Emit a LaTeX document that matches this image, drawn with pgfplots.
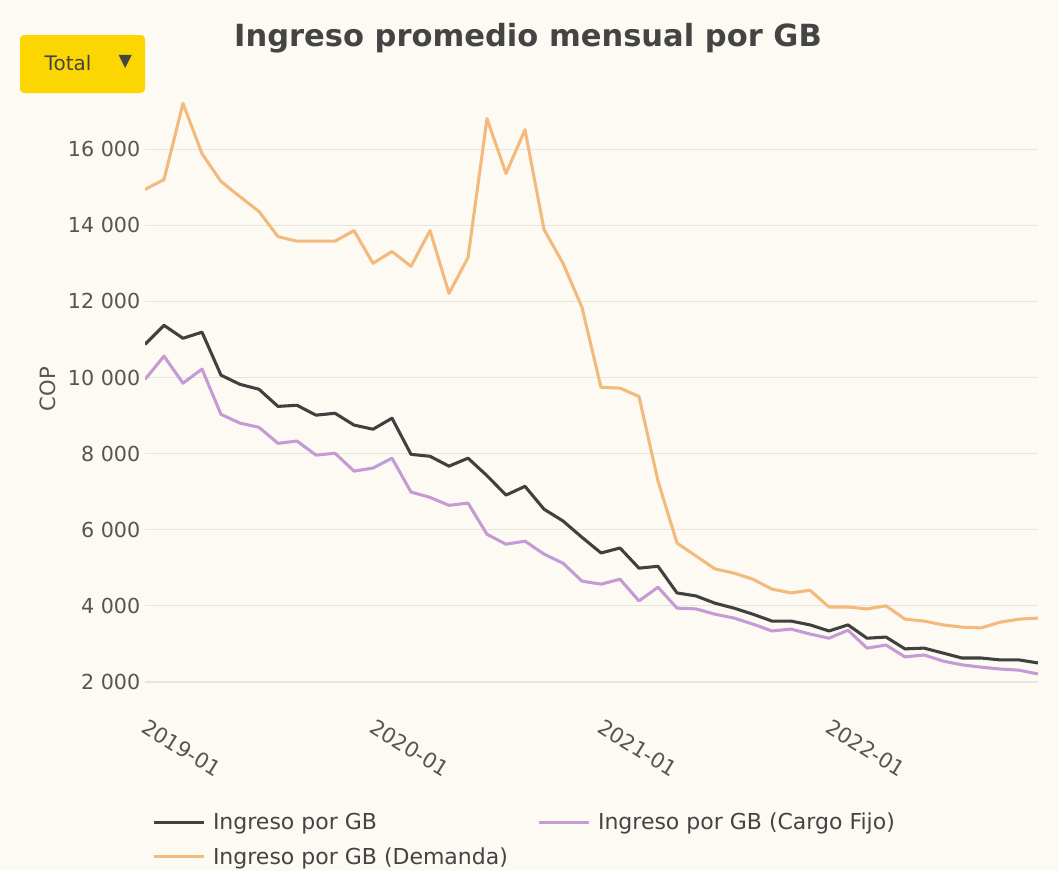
\documentclass[border=0pt]{standalone}
\usepackage{pgfplots}
\pgfplotsset{compat=1.18}
\usepackage{fontspec}
\setmainfont{DejaVu Sans}
\definecolor{bg}{HTML}{FDFAF3}
\definecolor{gridc}{HTML}{E8E5DD}
\definecolor{cdark}{HTML}{404040}
\definecolor{cpurp}{HTML}{C49BD5}
\definecolor{corange}{HTML}{F2BA7D}
\definecolor{btn}{HTML}{FCD600}
\definecolor{txt}{HTML}{444444}
\definecolor{ticktxt}{HTML}{555555}
\begin{document}
\begin{tikzpicture}
\useasboundingbox (0pt,0pt) rectangle (794.25pt,-653.25pt);
\fill[bg] (0pt,0pt) rectangle (794.25pt,-653.25pt);
\begin{axis}[
  at={(108.75pt,-525.75pt)}, anchor=south west,
  scale only axis, width=669.75pt, height=456.75pt,
  xmin=0, xmax=47, ymin=1500, ymax=17500,
  scaled y ticks=false,
  axis line style={draw=none}, tick style={draw=none},
  ymajorgrids, grid style={color=gridc, line width=0.8pt},
  xtick={0,12,24,36}, xticklabels={2019-01,2020-01,2021-01,2022-01},
  xticklabel style={rotate=-32, anchor=north west, xshift=5.5pt, yshift=-6pt, text=ticktxt, font=\fontsize{15.8pt}{18pt}\selectfont},
  ytick={2000,4000,6000,8000,10000,12000,14000,16000},
  yticklabels={{2 000},{4 000},{6 000},{8 000},{10 000},{12 000},{14 000},{16 000}},
  yticklabel style={text=ticktxt, font=\fontsize{15.5pt}{18pt}\selectfont},
  ylabel={COP}, ylabel style={at={(axis description cs:-0.1086,0.512)}, anchor=center, text=ticktxt, font=\fontsize{15.8pt}{18pt}\selectfont},
  legend columns=2,
  legend cell align=left,
  legend style={at={(axis description cs:0,0)}, anchor=north west, xshift=5.25pt, yshift=-82pt,
    draw=none, fill=none, inner sep=0pt, text=txt, font=\fontsize{16.5pt}{19pt}\selectfont,
    row sep=7.5pt,
    /tikz/every odd column/.append style={column sep=3.75pt},
    /tikz/every even column/.append style={column sep=20pt}},
  legend image code/.code={\draw[#1] (0pt,0pt) -- (37.5pt,0pt);},
  every axis plot/.append style={line width=2.3pt, line join=round},
]
\addplot[cdark] coordinates {(0,10870)(1,11370)(2,11030)(3,11190)(4,10060)(5,9820)(6,9690)(7,9240)(8,9270)(9,9010)(10,9060)(11,8750)(12,8640)(13,8930)(14,7980)(15,7930)(16,7670)(17,7880)(18,7420)(19,6910)(20,7140)(21,6540)(22,6230)(23,5800)(24,5390)(25,5520)(26,4990)(27,5040)(28,4340)(29,4260)(30,4070)(31,3940)(32,3780)(33,3600)(34,3600)(35,3500)(36,3340)(37,3500)(38,3150)(39,3180)(40,2870)(41,2890)(42,2760)(43,2630)(44,2630)(45,2580)(46,2580)(47,2500)};
\addlegendentry{Ingreso por GB}
\addplot[cpurp] coordinates {(0,9950)(1,10560)(2,9850)(3,10220)(4,9030)(5,8800)(6,8690)(7,8270)(8,8330)(9,7960)(10,8010)(11,7540)(12,7620)(13,7880)(14,6990)(15,6850)(16,6640)(17,6700)(18,5880)(19,5620)(20,5700)(21,5360)(22,5120)(23,4650)(24,4570)(25,4700)(26,4130)(27,4490)(28,3940)(29,3920)(30,3780)(31,3680)(32,3520)(33,3340)(34,3390)(35,3260)(36,3150)(37,3360)(38,2890)(39,2970)(40,2660)(41,2710)(42,2550)(43,2450)(44,2390)(45,2340)(46,2310)(47,2210)};
\addlegendentry{Ingreso por GB (Cargo Fijo)}
\addplot[corange] coordinates {(0,14940)(1,15200)(2,17200)(3,15880)(4,15150)(5,14750)(6,14360)(7,13700)(8,13580)(9,13580)(10,13580)(11,13860)(12,13000)(13,13310)(14,12920)(15,13860)(16,12210)(17,13150)(18,16800)(19,15360)(20,16510)(21,13890)(22,13000)(23,11840)(24,9740)(25,9720)(26,9500)(27,7280)(28,5650)(29,5310)(30,4970)(31,4860)(32,4700)(33,4440)(34,4340)(35,4410)(36,3970)(37,3970)(38,3920)(39,4000)(40,3650)(41,3600)(42,3500)(43,3440)(44,3420)(45,3570)(46,3650)(47,3680)};
\addlegendentry{Ingreso por GB (Demanda)}
\end{axis}
\node[anchor=base, text=txt, font=\fontsize{22.9pt}{26pt}\selectfont\bfseries] at (396pt,-34.5pt) {Ingreso promedio mensual por GB};
\fill[btn, rounded corners=3pt] (15pt,-26.25pt) rectangle (108.75pt,-69.75pt);
\node[anchor=west, text=txt, font=\fontsize{15pt}{18pt}\selectfont] at (30pt,-47.25pt) {Total};
\node[text=txt, font=\fontsize{13pt}{15pt}\selectfont] at (94pt,-46.5pt) {▼};
\end{tikzpicture}
\end{document}
